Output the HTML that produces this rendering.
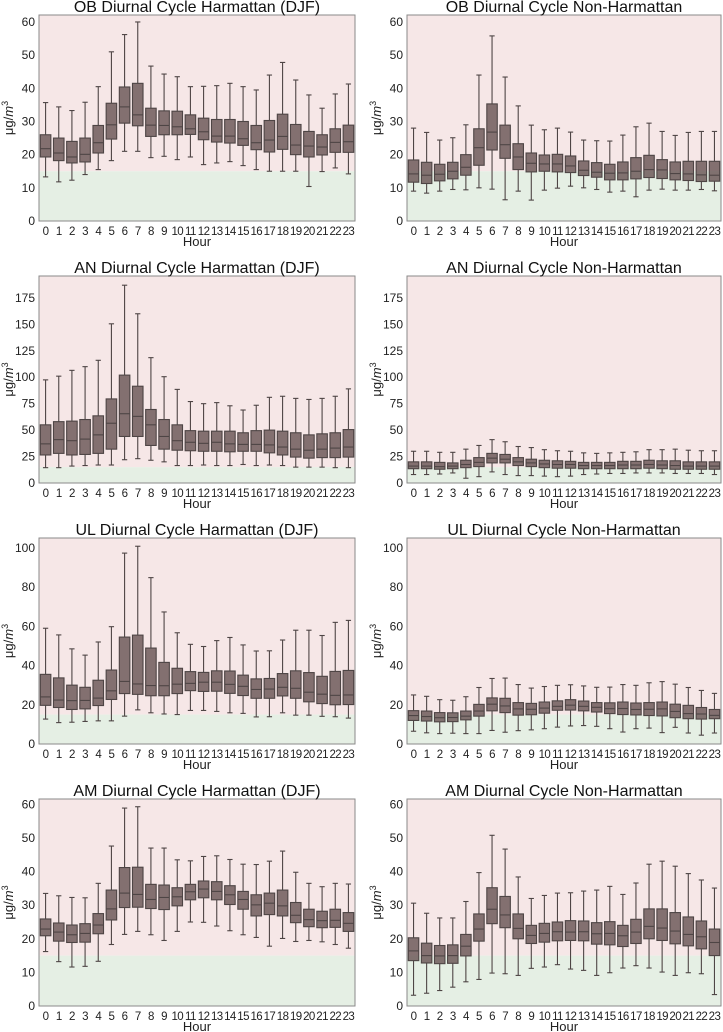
<!DOCTYPE html>
<html><head><meta charset="utf-8"><style>
html,body{margin:0;padding:0;background:#fff;}
svg{display:block;font-family:"Liberation Sans",Arial,sans-serif;}
</style></head><body>
<svg id="fig" width="723" height="1032" viewBox="0 0 723 1032" xmlns="http://www.w3.org/2000/svg"></svg>
<script>
const hours = ["0","1","2","3","4","5","6","7","8","9","10","11","12","13","14","15","16","17","18","19","20","21","22","23"];
const threshold = 15;
const ticksA = [0,10,20,30,40,50,60];
const ticksAN = [0,25,50,75,100,125,150,175];
const ticksUL = [0,20,40,60,80,100];

const obDjfLo=[13.3,11.8,12.3,14,15.5,18.2,21,21,19.1,19.5,18.5,19.3,17,17.5,17.9,16.7,15.5,15,15,15,10.4,14.9,16,14.2];
const obDjfQ1=[19.3,18.2,17.5,17.8,20.5,24.7,29.5,28.7,25.5,26,26,26.1,24.5,23.8,23.5,22.8,21.5,20.8,21.6,20,19.3,19.9,20.7,20.7];
const obDjfMed=[21.8,20.5,19.3,20.1,23.6,29,34.4,32,28.9,28.8,28.4,27.8,26.9,25.6,25.6,24.8,23.6,24.4,25.5,22.9,22.6,22.3,23.7,23.9];
const obDjfQ3=[26,25,24,25,28.8,35.5,40.4,41.5,34,33.2,33.1,32,31,30.6,30.6,30,28.8,30.3,32.2,29.1,27,26,27.8,28.9];
const obDjfHi=[35.7,34.4,33.3,35.8,40.5,51,56.2,60,46.7,44.3,43.5,40.5,40.6,40.8,41.5,40.5,39.5,44,47.8,42.5,38,34,38.3,41.3];

const obNonLo=[9,8.4,9,9.5,9.4,10,9.6,6.4,9,6.3,9.3,9.9,10.5,10,9.5,8.7,9,7.3,9.3,9.6,9.3,9.3,9.5,9.1];
const obNonQ1=[11.7,11.3,12.1,12.7,13.8,16.8,21.4,18.9,15.5,14.8,15,14.8,14.6,13.7,13.2,12.4,12.4,12.7,13.1,12.8,12.4,12.2,11.9,12];
const obNonMed=[14.2,13.8,14.1,15,16.2,22.1,26.8,23,19.3,17.4,17.2,17.2,16.6,15.3,14.7,14.4,14.5,15,15.5,15.4,14.3,14.2,13.9,13.8];
const obNonQ3=[18.4,17.7,17.1,17.7,20,27.8,35.3,28.9,23.3,20.5,19.9,20.1,19.6,18.1,17.6,17.1,17.8,19.1,19.8,18.5,17.8,18,18,18];
const obNonHi=[28,26.7,24.4,25.1,29,44,55.8,43.4,34.7,28.9,27.5,28,26.8,24.4,24.2,24.1,25.9,28.4,29.5,27,25.8,26.7,27,27];

const anDjfLo=[14.5,14.5,16,16.5,17,17,22,23,21.5,20,16.5,16.5,17,16.5,16.5,17.5,16.5,17,16.5,15,15,15,14.5,14.5];
const anDjfQ1=[26.5,28,26.5,27,28,32,44,44,35.5,32,31,30.5,30,30,29.5,30,30,28.5,26.5,24.5,23.5,24,24,24.5];
const anDjfMed=[37,41,40,41.5,45.5,56.5,65.5,63,55,44,40,38.5,37.5,38.5,37,36.5,36.5,36,34,32,31,32,33,34];
const anDjfQ3=[55,58,58.5,60,63.5,79.5,102,91.5,69.5,60,55,49.5,49,49,49,47.5,49.5,50,49,47.5,45.5,46.5,47.5,50.5];
const anDjfHi=[97.5,101,106.5,110,116,150.5,187,160,118.5,100.5,88.5,77,75,76,73,69,73.5,81,82,80,79,80,82,89];

const anNonLo=[8,8,8.5,9.5,4.5,6,10.5,8,7,7,6.5,6,6.5,8,8.5,9,9,9.5,9.5,9.5,9,9,9,8];
const anNonQ1=[13.5,13.5,13,13.5,14.5,15.5,19,19,16.5,15.5,14.5,14,14,13.5,13.5,13.5,13.5,13.5,14,13.5,13,13,13,13];
const anNonMed=[16,16,15.5,16,17.5,19.5,23.5,22.5,20,19,18,17.5,17.5,16.5,16.5,16.5,17,17,17.5,17,16.5,16,16,16];
const anNonQ3=[20,20,19.5,19,21.5,24,28,27,24,22.5,21.5,21,20.5,19.5,19.5,19.5,20.5,20.5,21.5,21,21,20,20,20];
const anNonHi=[30,30,29,29,32,35.5,41,39,34.5,33.5,31.5,30.5,30,28.5,28,28.5,29,29.5,31.5,31.5,32,31,30.5,30.5];

const ulDjfLo=[12.7,10.9,11.1,11.5,11.8,11.8,14.2,17.4,15.9,15.3,15,17.1,17.1,16.6,15.9,15.6,13.8,13.9,15.9,14.7,14.7,14.1,13.9,13.2];
const ulDjfQ1=[19.7,18.6,17.6,17.9,19.6,22.7,25.7,25.3,24.6,24.6,25.7,27.2,26.8,26.9,25.8,24.7,23.3,23.3,24.5,23.3,21.5,20.6,20,20.1];
const ulDjfMed=[24,22.4,22.1,22.2,23.4,27.1,31.9,30.6,29.8,29.7,30.5,30.9,31.5,31.5,30.4,29.4,27.8,28,28.9,28.4,26.4,25.4,24.8,25];
const ulDjfQ3=[35.5,33.7,30,28.9,32.5,37.7,54.5,55.5,48.9,41.6,38.6,36.9,36.5,37.3,37.2,35.1,33.2,33.4,35.9,37.3,36.4,34.5,37,37.5];
const ulDjfHi=[59,55.6,48.5,45.3,52,59.8,97.3,100.8,84.8,67.3,56.7,50.8,49.7,52.7,54.3,50.5,47.4,47.5,53,58,58,55.3,62,63];

const ulNonLo=[6.5,5.7,5.3,5.5,5.3,5.3,6.9,6,6.8,7.2,7.8,8.6,9.2,9.4,9,7.8,6.1,7.8,8.1,5.8,8.5,5.6,4.5,5.6];
const ulNonQ1=[12,11.7,11.3,11.4,12.3,14.2,16.9,16,14.7,14.9,15.7,17.2,17.3,16.9,16.3,15.5,15,14.8,14.5,14.3,13.4,12.9,12.7,12.9];
const ulNonMed=[14.5,14,13.4,13.5,14.2,16.8,20.3,19.4,17.9,17.7,18.3,19.2,19.8,19.2,18.7,18,18.1,17.6,17.7,17.9,16.6,15.5,15.3,14.6];
const ulNonQ3=[17,16.8,16,15.9,16.8,20.2,23.5,23.3,21.1,20.7,21.4,22,22.6,21.9,21.1,21,21.4,20.9,21.1,21.4,20.3,19.7,18.6,17.6];
const ulNonHi=[25,24.3,22.6,22.3,24.1,28.8,33.4,33.6,30.3,28.5,29.3,29.9,30.2,29.6,28.9,29,30.3,29.9,31.2,31.8,30.5,28.8,27.3,25.8];

const amDjfLo=[16.2,13.2,11.6,11.8,13.3,18.3,21.3,22.2,21.2,19.5,22.2,25,24.9,23.8,22.4,21.2,20.4,17.8,20.1,19.2,19.5,19.1,18.3,17.2];
const amDjfQ1=[20.9,19.3,18.9,19,21.5,25.6,29.3,29.4,29,28.7,29.8,31.6,32.2,31.6,30.2,28.8,26.8,27.2,26.8,24.8,23.6,23.3,23.4,22.2];
const amDjfMed=[22.9,22,21.2,21.6,24.1,28.9,33.6,33.2,31.7,32.3,32.5,34,34.8,34.1,33.1,31.7,30.1,30.6,29.8,27,25.7,25.4,25.5,24.6];
const amDjfQ3=[25.9,24.7,24.1,24.5,27.5,34.5,41.2,41.3,36.2,36,35.2,36.2,37.2,37,35.8,34.1,33.1,33.6,34.5,30.8,28.8,28.2,28.8,27.8];
const amDjfHi=[33.5,32.8,32.3,32.2,36.5,47.6,58.9,59.3,47,47,43.5,43.2,44.5,44.7,43.6,42.2,42.1,43.1,46.1,39.8,36.5,35.5,36.5,36.3];

const amNonLo=[3.2,3.8,4.6,5.6,7.2,7.9,9.8,9.6,9.1,11.2,11.6,12.3,11,10.6,9.1,9.9,11.3,12,11.3,10.1,9.1,9.9,9.6,3.4];
const amNonQ1=[13.5,12.8,12.6,12.7,14.9,19.3,24.5,23.3,20,18.6,19,19.4,19.5,19.4,18.4,18.2,17.7,18.6,20,19.5,18.5,17.9,17,15];
const amNonMed=[16.4,15,14.9,15,17.8,22.9,28.8,27.1,23.1,21,21.6,22.1,22,22.1,21.5,21.6,20.9,22,23.7,23.2,22.3,21.3,20.6,18.9];
const amNonQ3=[20.3,18.7,18,18.2,21.3,27.4,35.2,32.6,27.4,24,24.6,25,25.4,25.3,24.8,25.1,24,25.8,28.9,28.9,27.8,26.5,25.3,22.9];
const amNonHi=[30.6,27.6,26.2,26.2,31.1,39.7,50.8,46.7,38.4,32,32.9,33.6,33.7,34.2,34.5,35.6,33.2,36.6,42.2,43.1,41.6,39.4,37.5,35.1];

const panels = [
 {name:"ob-harmattan", title:"OB Diurnal Cycle Harmattan (DJF)", col:0,row:0,ymax:62.1,ticks:ticksA,lo:obDjfLo,q1:obDjfQ1,med:obDjfMed,q3:obDjfQ3,hi:obDjfHi},
 {name:"ob-non-harmattan", title:"OB Diurnal Cycle Non-Harmattan", col:1,row:0,ymax:62.1,ticks:ticksA,lo:obNonLo,q1:obNonQ1,med:obNonMed,q3:obNonQ3,hi:obNonHi},
 {name:"an-harmattan", title:"AN Diurnal Cycle Harmattan (DJF)", col:0,row:1,ymax:195.7,ticks:ticksAN,lo:anDjfLo,q1:anDjfQ1,med:anDjfMed,q3:anDjfQ3,hi:anDjfHi},
 {name:"an-non-harmattan", title:"AN Diurnal Cycle Non-Harmattan", col:1,row:1,ymax:195.7,ticks:ticksAN,lo:anNonLo,q1:anNonQ1,med:anNonMed,q3:anNonQ3,hi:anNonHi},
 {name:"ul-harmattan", title:"UL Diurnal Cycle Harmattan (DJF)", col:0,row:2,ymax:105,ticks:ticksUL,lo:ulDjfLo,q1:ulDjfQ1,med:ulDjfMed,q3:ulDjfQ3,hi:ulDjfHi},
 {name:"ul-non-harmattan", title:"UL Diurnal Cycle Non-Harmattan", col:1,row:2,ymax:105,ticks:ticksUL,lo:ulNonLo,q1:ulNonQ1,med:ulNonMed,q3:ulNonQ3,hi:ulNonHi},
 {name:"am-harmattan", title:"AM Diurnal Cycle Harmattan (DJF)", col:0,row:3,ymax:61.6,ticks:ticksA,lo:amDjfLo,q1:amDjfQ1,med:amDjfMed,q3:amDjfQ3,hi:amDjfHi},
 {name:"am-non-harmattan", title:"AM Diurnal Cycle Non-Harmattan", col:1,row:3,ymax:61.6,ticks:ticksA,lo:amNonLo,q1:amNonQ1,med:amNonMed,q3:amNonQ3,hi:amNonHi}
];
const colX = [[39,355],[407,721]];
const rowY = [[15,221],[276,483],[538,744],[799,1006]];
const NS = "http://www.w3.org/2000/svg";
const svg = document.getElementById("fig");
function mk(tag, attrs, parent){ const e=document.createElementNS(NS,tag); for(const k in attrs) e.setAttribute(k,attrs[k]); (parent||svg).appendChild(e); return e; }

panels.forEach(p=>{
  const [x0,x1]=colX[p.col], [y0,y1]=rowY[p.row];
  const g = mk("g",{});
  
  
  const yS = v => y1 - v/p.ymax*(y1-y0);
  const step = (x1-x0)/hours.length;
  const xS = i => x0 + step*(i+0.5);
  const pink = mk("rect",{x:x0,y:y0,width:x1-x0,height:yS(threshold)-y0,fill:"#f6e7e7"},g);
  
  
  const green = mk("rect",{x:x0,y:yS(threshold),width:x1-x0,height:y1-yS(threshold),fill:"#e5efe4"},g);
  
  
  const bw = step*0.8, cw = step*0.4;
  hours.forEach((h,i)=>{
    const bg = mk("g",{},g);
    
    
    const cx = xS(i), st = {stroke:"#4e4545","stroke-width":1.1};
    mk("line",Object.assign({x1:cx,x2:cx,y1:yS(p.hi[i]),y2:yS(p.q3[i])},st),bg);
    mk("line",Object.assign({x1:cx,x2:cx,y1:yS(p.q1[i]),y2:yS(p.lo[i])},st),bg);
    mk("line",Object.assign({x1:cx-cw/2,x2:cx+cw/2,y1:yS(p.hi[i]),y2:yS(p.hi[i])},st),bg);
    mk("line",Object.assign({x1:cx-cw/2,x2:cx+cw/2,y1:yS(p.lo[i]),y2:yS(p.lo[i])},st),bg);
    mk("rect",{x:cx-bw/2,y:yS(p.q3[i]),width:bw,height:yS(p.q1[i])-yS(p.q3[i]),fill:"rgba(105,85,85,0.82)",stroke:"#4e4545","stroke-width":1.1},bg);
    mk("line",Object.assign({x1:cx-bw/2,x2:cx+bw/2,y1:yS(p.med[i]),y2:yS(p.med[i])},st),bg);
    const t = mk("text",{x:cx,y:y1+14,"text-anchor":"middle","font-size":11.5,"letter-spacing":"-0.6",fill:"#222"},g);
    t.textContent = h;
    
    
  });
  p.ticks.forEach(v=>{
    const t = mk("text",{x:x0-4,y:yS(v)+4,"text-anchor":"end","font-size":12,fill:"#222"},g);
    t.textContent = v;
    
    
  });
  const fr = mk("rect",{x:x0,y:y0,width:x1-x0,height:y1-y0,fill:"none",stroke:"#8a8a8a","stroke-width":1},g);
  
  
  const ti = mk("text",{x:(x0+x1)/2,y:y0-3,"text-anchor":"middle","font-size":16,fill:"#111"},g);
  ti.textContent = p.title;
  
  
  const xl = mk("text",{x:(x0+x1)/2,y:y1+25,"text-anchor":"middle","font-size":13,fill:"#222"},g);
  xl.textContent = "Hour";
  
  
  const yx = x0-26, yy=(y0+y1)/2;
  const yl = mk("text",{x:yx,y:yy,"text-anchor":"middle","font-size":13,fill:"#222",transform:`rotate(-90 ${yx} ${yy})`},g);
  yl.innerHTML = 'μg/<tspan font-style="italic">m</tspan><tspan font-size="9" dy="-5">3</tspan>';
  
  
});
</script>
</body></html>
